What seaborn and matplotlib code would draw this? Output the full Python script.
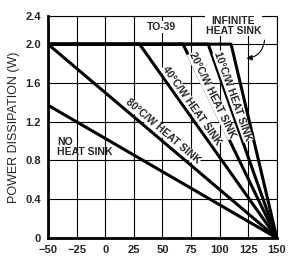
import numpy as np
import pandas as pd
import matplotlib
matplotlib.use("Agg")
import matplotlib.pyplot as plt
import seaborn as sns

# data (ambient temperature vs allowed dissipation)
series_names = ["NO HEAT SINK", "80°C/W", "40°C/W", "20°C/W", "10°C/W", "INFINITE"]
series_temps = [[-50, 150], [-50, 150], [-50, 30, 150], [-50, 68, 150],
                [-50, 90, 150], [-50, 110, 150]]
series_power = [[1.37, 0], [2.0, 0], [2.0, 2.0, 0], [2.0, 2.0, 0],
                [2.0, 2.0, 0], [2.0, 2.0, 0]]

x_ticks = [-50, -25, 0, 25, 50, 75, 100, 125, 150]
# the original's top band (2.0 -> "2.4") is drawn squashed, so the top edge sits at 2.29
y_top = 2.29
y_ticks = [0, 0.4, 0.8, 1.2, 1.6, 2.0, y_top]
y_tick_labels = ["0", "0.4", "0.8", "1.2", "1.6", "2.0", "2.4"]

rows = []
for name, ts, ps in zip(series_names, series_temps, series_power):
    for t, p in zip(ts, ps):
        rows.append({"series": name, "temp": t, "power": p})
df = pd.DataFrame(rows)

sns.set_style("white")
plt.rcParams["font.family"] = ["Liberation Sans", "DejaVu Sans"]

fig = plt.figure(figsize=(2.89, 2.63), dpi=100)
ax = fig.add_axes([0.166, 0.095, 0.792, 0.844])

sns.lineplot(data=df, x="temp", y="power", hue="series", units="series",
             estimator=None, sort=False, palette=["black"] * len(series_names),
             linewidth=2.2, legend=False, ax=ax, zorder=3)

ax.set_xlim(-50, 150)
ax.set_ylim(0, y_top)
ax.set_xticks(x_ticks)
ax.set_yticks(y_ticks)
ax.set_yticklabels(y_tick_labels)
ax.grid(True, color="black", linewidth=0.8)
ax.tick_params(length=0, labelsize=8, pad=5)
for lab in ax.get_xticklabels() + ax.get_yticklabels():
    lab.set_fontweight("bold")
for s in ["top", "right"]:
    ax.spines[s].set_linewidth(0.8)
for s in ["left", "bottom"]:
    ax.spines[s].set_linewidth(2.0)
for s in ax.spines.values():
    s.set_color("black")
ax.set_xlabel("")
ax.set_ylabel("POWER DISSIPATION (W)", fontsize=9, labelpad=4)

box = dict(facecolor="white", edgecolor="none", pad=0.6)
ax.text(49, 2.175, "TO-39", fontsize=7.5, fontweight="bold", ha="center", va="center",
        bbox=box, zorder=4)
ax.text(112, 2.19, "INFINITE\nHEAT SINK", fontsize=7.5, fontweight="bold", ha="center",
        va="center", linespacing=0.95, bbox=box, zorder=4, clip_on=False)
ax.text(-42, 0.94, "NO\nHEAT SINK", fontsize=7.5, fontweight="bold", ha="left",
        va="center", linespacing=0.95, zorder=4)

# slanted labels, parallel to the sloping part of their line
labels = ["80°C/W HEAT SINK", "40°C/W HEAT SINK", "20°C/W HEAT SINK", "10°C/W HEAT SINK"]
label_series = [1, 2, 3, 4]
label_x = [50.5, 75.4, 93.4, 111.7]
label_y = [1.10, 1.37, 1.47, 1.46]
fig.canvas.draw()
for t, k, lx, ly in zip(labels, label_series, label_x, label_y):
    ts, ps = series_temps[k], series_power[k]
    p0 = ax.transData.transform((ts[-2], ps[-2]))
    p1 = ax.transData.transform((ts[-1], ps[-1]))
    ang = np.degrees(np.arctan2(p1[1] - p0[1], p1[0] - p0[0]))
    ax.text(lx, ly, t, fontsize=7.5, fontweight="bold", rotation=ang, ha="center",
            va="center", rotation_mode="anchor",
            bbox=dict(facecolor="white", edgecolor="none", pad=0.2), zorder=4)

ax.annotate("", xy=(121, 1.85), xytext=(139.5, 2.07),
            arrowprops=dict(arrowstyle="-|>", color="black", lw=0.8,
                            connectionstyle="arc3,rad=-0.45", mutation_scale=8),
            zorder=5)

fig.savefig("out.png", dpi=100)
